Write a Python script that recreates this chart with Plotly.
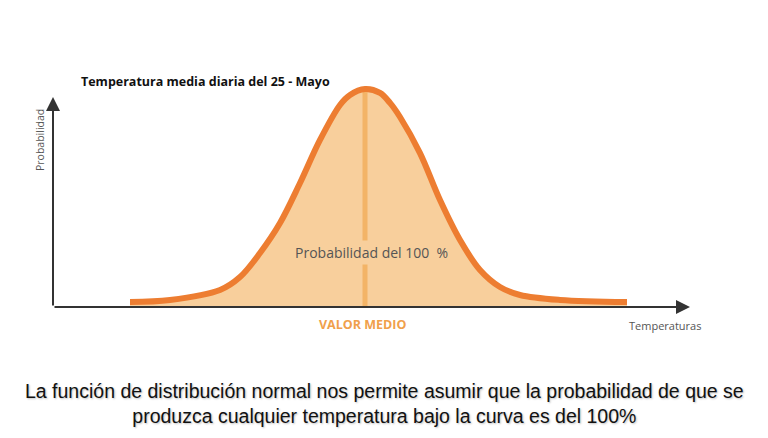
import plotly.graph_objects as go

# Curve (temperature units, relative probability)
temperaturas = [8.25, 10.25, 12.75, 13.75, 14.75, 15.75, 16.75, 17.75, 18.75, 19.25,
                20.0, 20.75, 21.25, 21.75, 22.75, 23.75, 24.75, 25.75, 26.75, 27.75,
                29.75, 33.1]
probabilidad = [0.022, 0.031, 0.075, 0.132, 0.238, 0.370, 0.546, 0.736, 0.890, 0.934,
                0.960, 0.943, 0.899, 0.837, 0.678, 0.471, 0.295, 0.163, 0.088, 0.053,
                0.031, 0.022]
valor_medio = 20.0
pico = 0.955

titulo = "Temperatura media diaria del 25 - Mayo"
texto_area = "Probabilidad del 100  %"
texto_medio = "VALOR MEDIO"
eje_x = "Temperaturas"
eje_y = "Probabilidad"
pie = ("La función de distribución normal nos permite asumir que la probabilidad de que se<br>"
       "produzca cualquier temperatura bajo la curva es del 100%")

ORANGE = "#ED7D31"
FILL = "#F8CF9C"
MEAN = "#F3B467"
AXIS = "#333333"

L, R, T, B = 53, 78, 80, 131
W, H = 768, 438
PW, PH = W - L - R, H - T - B


def px(xp, yp):
    return (xp - L) / PW, (H - B - yp) / PH


fig = go.Figure()
fig.add_trace(go.Scatter(x=temperaturas, y=probabilidad, mode="lines",
                         line=dict(color="rgba(0,0,0,0)", width=0, shape="spline"),
                         fill="tozeroy", fillcolor=FILL, hoverinfo="skip"))
fig.add_trace(go.Scatter(x=[valor_medio, valor_medio], y=[0, pico], mode="lines",
                         line=dict(color=MEAN, width=5), hoverinfo="skip"))
fig.add_trace(go.Scatter(x=temperaturas, y=probabilidad, mode="lines",
                         line=dict(color=ORANGE, width=6, shape="spline"),
                         hoverinfo="skip"))

annotations = []
# y axis arrow
x0, y0 = px(53, 97)
annotations.append(dict(x=x0, y=y0, xref="paper", yref="paper", ax=0, ay=210,
                        axref="pixel", ayref="pixel", text="", showarrow=True,
                        arrowhead=2, arrowsize=1.4, arrowwidth=2, arrowcolor=AXIS))
# x axis arrow
x0, y0 = px(690, 307)
annotations.append(dict(x=x0, y=y0, xref="paper", yref="paper", ax=-637, ay=0,
                        axref="pixel", ayref="pixel", text="", showarrow=True,
                        arrowhead=2, arrowsize=1.4, arrowwidth=2, arrowcolor=AXIS))


def label(text, xp, yp, size, color, family="Open Sans, sans-serif", **kw):
    x0, y0 = px(xp, yp)
    d = dict(x=x0, y=y0, xref="paper", yref="paper", text=text, showarrow=False,
             xanchor=kw.pop("xanchor", "center"), yanchor="middle",
             font=dict(family=family, size=size, color=color, **kw.pop("font", {})))
    d.update(kw)
    annotations.append(d)


label(texto_area, 372, 252, 14, "#555555", bgcolor=FILL, borderpad=2)
label(texto_medio, 362, 324, 12.5, "#F0A04B", font=dict(weight="bold"))
label(eje_x, 665, 325, 11, "#555555")
label(eje_y, 40, 140, 10.5, "#555555", textangle=-90)
label(titulo, 79, 82, 12.5, "#111111", xanchor="left",
      family="Open Sans, sans-serif", font=dict(weight="bold"))
label(pie, 384, 403, 19.5, "#111111", family="Liberation Sans, Arial, sans-serif",
      font=dict(shadow="1px 1px 2px rgba(0,0,0,0.25)"))

fig.update_layout(
    width=W, height=H,
    margin=dict(l=L, r=R, t=T, b=B),
    paper_bgcolor="white", plot_bgcolor="white",
    showlegend=False,
    xaxis=dict(visible=False, range=[4.4, 36.25]),
    yaxis=dict(visible=False, range=[0, 1.0]),
    annotations=annotations,
)

fig.write_html("out.html", config={"displayModeBar": False})
